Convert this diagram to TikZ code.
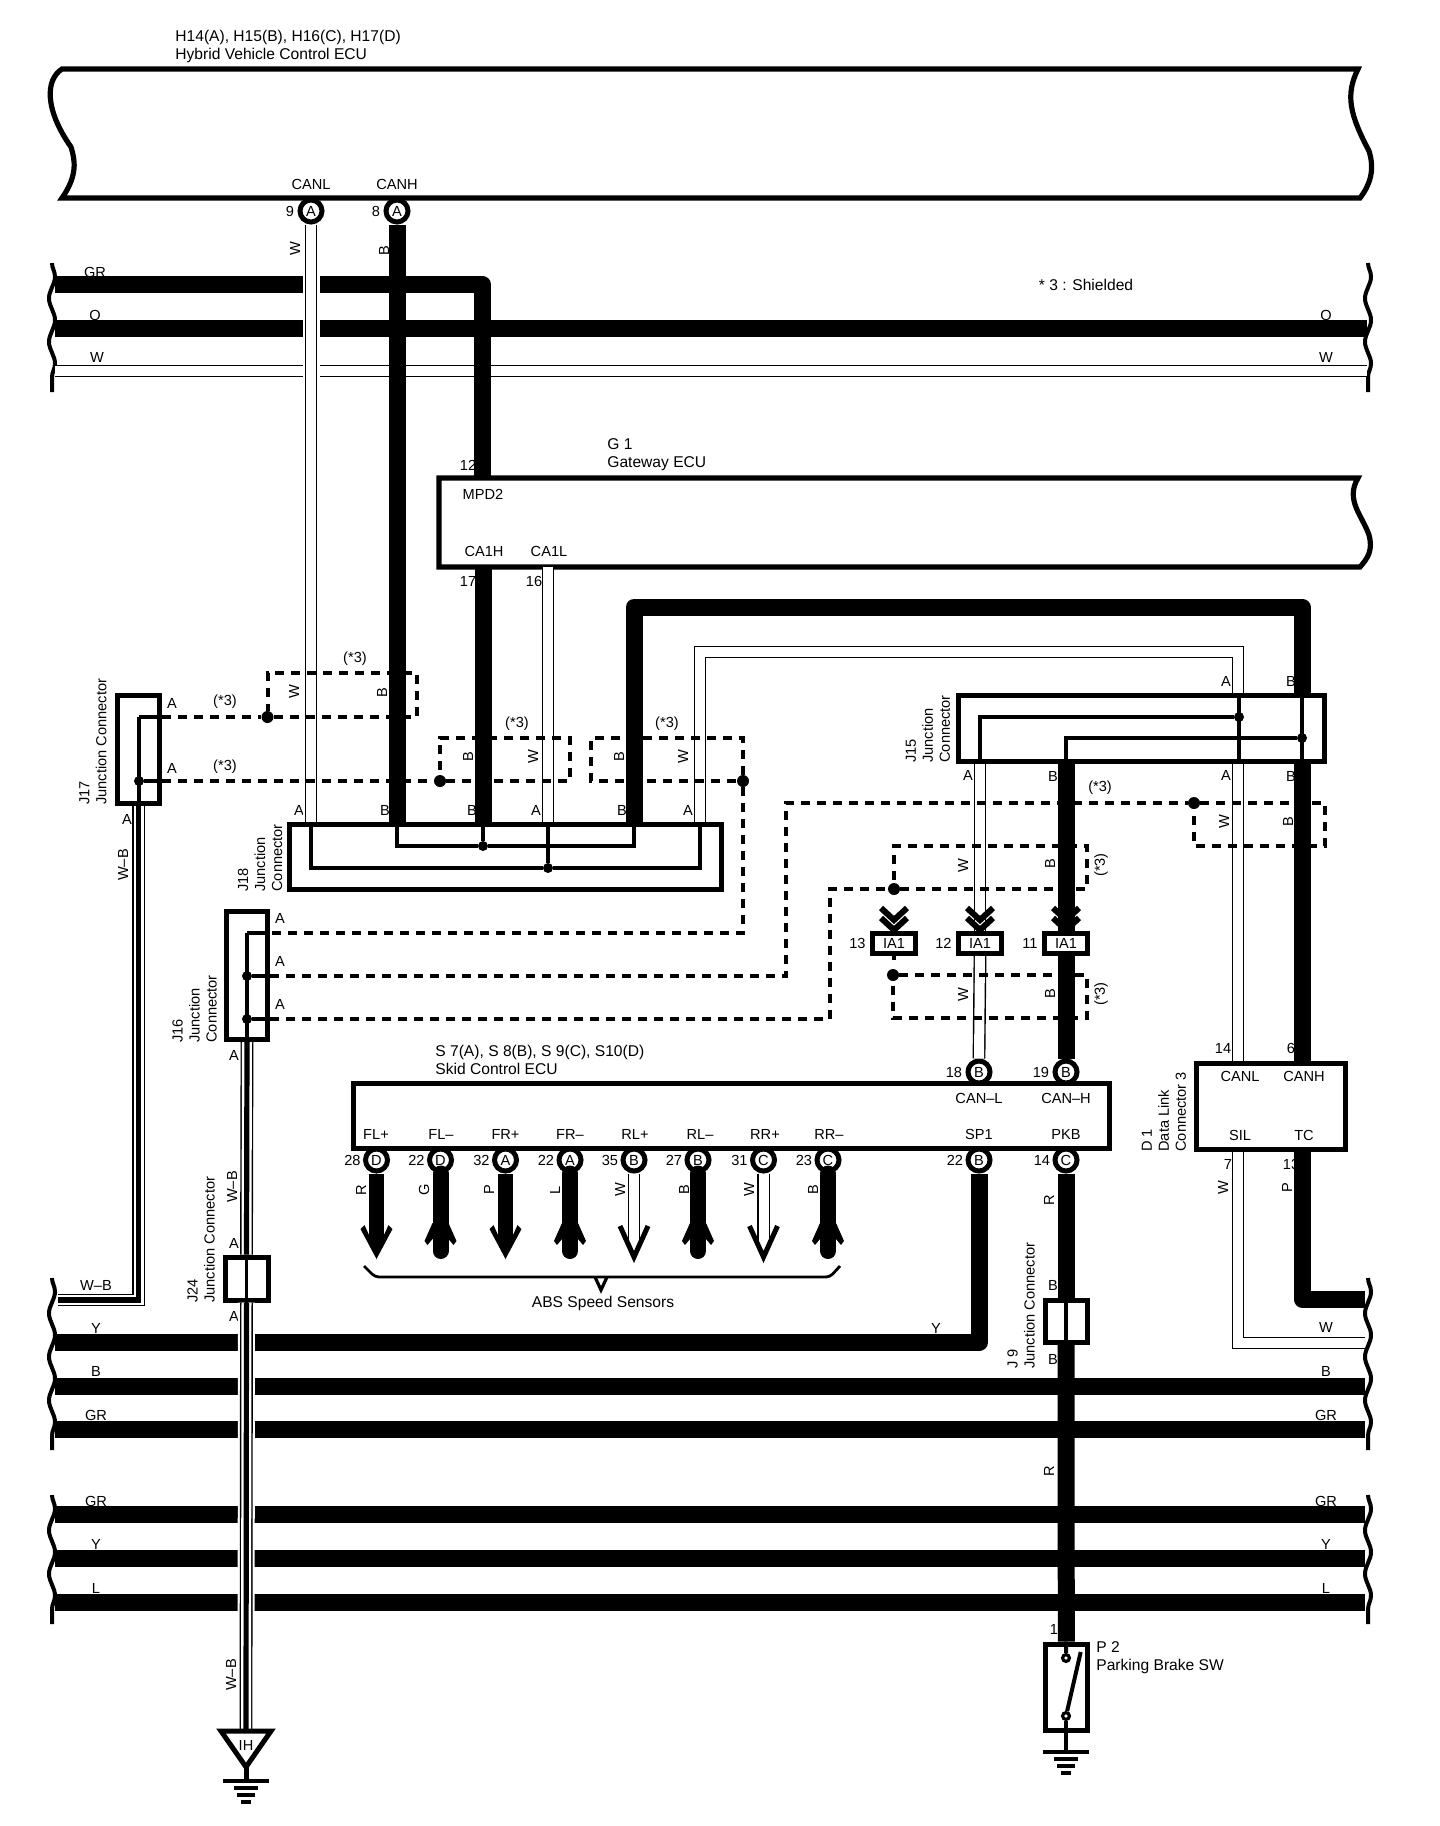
\documentclass[tikz,border=0pt]{standalone}
\usepackage{fontspec}
\setmainfont{Liberation Sans}
\usetikzlibrary{positioning,decorations.pathmorphing}

\begin{document}
\begin{tikzpicture}[x=.5pt,y=-.5pt,
	every node/.style={font=\fontsize{7.3}{8.5}\selectfont,inner sep=0pt},
	rlab/.style={rotate=90},
	bigtext/.style={font=\fontsize{7.8}{9}\selectfont},
	title/.style={bigtext,anchor=west,align=left},
	conn/.style={rotate=90,anchor=west,align=left},
	jbox/.style={draw,rectangle,line width=2.5pt},
	pin/.style={draw,circle,fill=white,line width=2.5pt,minimum size=11pt},
	dot/.style={circle,fill,minimum size=6pt},
	jdot/.style={circle,fill,minimum size=5pt},
	swpin/.style={draw,circle,line width=1.6pt,minimum size=3.4pt},
	ecubox/.style={line width=2.6pt},
	bwire/.style={line width=8.5pt,line join=round},
	wwire/.style={draw=black,line width=6.4pt,postaction={draw=white,line width=5pt}},
	wbwire/.style={wwire,postaction={draw=black,line width=2.6pt}},
	gapwire/.style={preaction={draw=white,line width=8.5pt}},
	inner/.style={line width=1.75pt},
	shield/.style={line width=2pt,dash pattern=on 4.5pt off 3.5pt},
	breakmark/.style={line width=2pt,decorate,decoration={snake,segment length=21.75pt,amplitude=1.5pt}},
	tipdown/.pic={\fill (-16,-30) -- (-12,-34) -- (-7.5,-24) -- (7.5,-24) -- (12,-34) -- (16,-30) -- (0,0) -- cycle;},
	tipopen/.pic={\draw[line width=2.5pt] (-14,-33) -- (0,-2) -- (14,-33);},
	tipup/.pic={\fill (-8,-36) -- (-16,-18) -- (-13,-14) -- (-8,-20) -- (8,-20) -- (13,-14) -- (16,-18) -- (8,-36) -- cycle;},
	tipdouble/.pic={\draw[line width=3pt] (-13,-23) -- (0,-11) -- (13,-23) (-13,-13) -- (0,-1) -- (13,-13);},
	ground/.pic={\draw[line width=1.8pt] (-23,0) -- (23,0) (-12,7) -- (12,7) (-9,14) -- (9,14) (-5,21) -- (5,21);},
	]
	\useasboundingbox (0,0) rectangle (1440,1826);

	% the ECU outlines
	\draw[ecubox] (62,69) -- (1358,69) .. controls (1345,95) and (1350,115) .. (1369,151) .. controls (1375,170) and (1370,185) .. (1360,198) -- (62,198) .. controls (78,175) and (75,160) .. (71,147) .. controls (45,110) and (45,80) .. (62,69) -- cycle;
	\draw[ecubox] (439,478) -- (1358,478) .. controls (1345,500) and (1362,515) .. (1369,535) .. controls (1373,550) and (1368,558) .. (1360,567) -- (439,567) -- cycle;
	\draw[breakmark] (52,263) -- (52,392);
	\draw[breakmark] (1368,263) -- (1368,392);
	\draw[breakmark] (52,1278) -- (52,1450);
	\draw[breakmark] (1368,1278) -- (1368,1450);
	\draw[breakmark] (52,1495) -- (52,1624);
	\draw[breakmark] (1368,1495) -- (1368,1624);

	% create the nodes
	\node (hvname) [title] at (175,46) {H14(A), H15(B), H16(C), H17(D)\\Hybrid Vehicle Control ECU};
	\node (gwname) [title] at (607,455) {G 1\\Gateway ECU};
	\node (skidname) [title] at (435,1060) {S 7(A), S 8(B), S 9(C), S10(D)\\Skid Control ECU};
	\node (swname) [title] at (1096,1658) {P 2\\Parking Brake SW};
	\node (shielded) [bigtext] at (1086,285) {* 3 : Shielded};

	\node (j17) [jbox,minimum width=21pt,minimum height=54pt] at (138.5,749) {};
	\node (j18) [jbox,minimum width=215.75pt,minimum height=32.5pt] at (505.25,857) {};
	\node (j16) [jbox,minimum width=20.5pt,minimum height=64pt] at (247,975.5) {};
	\node (j24) [jbox,minimum width=21.5pt,minimum height=21.5pt] at (246.5,1278.5) {};
	\node (j15) [jbox,minimum width=183pt,minimum height=33pt] at (1141.5,728) {};
	\node (j9) [jbox,minimum width=21pt,minimum height=21pt] at (1066,1321) {};
	\node (skid) [jbox,minimum width=378pt,minimum height=32.25pt] at (731.5,1115.75) {};
	\node (dlc) [jbox,minimum width=74.5pt,minimum height=43pt] at (1270.5,1106) {};
	\node (p2) [jbox,minimum width=21.25pt,minimum height=43pt] at (1066.3,1687) {};
	\node (ia13) [jbox,minimum width=21.5pt,minimum height=10pt] at (894,943.5) {IA1};
	\node (ia12) [jbox,minimum width=21.5pt,minimum height=10pt] at (980,943.5) {IA1};
	\node (ia11) [jbox,minimum width=21.5pt,minimum height=10pt] at (1066,943.5) {IA1};

	\node (j17txt) [conn] at (93,805) {J17\\Junction Connector};
	\node (j18txt) [conn] at (260,892) {J18\\Junction\\Connector};
	\node (j16txt) [conn] at (194.5,1043) {J16\\Junction\\Connector};
	\node (j24txt) [conn] at (201,1303) {J24\\Junction Connector};
	\node (j15txt) [conn] at (928,763) {J15\\Junction\\Connector};
	\node (j9txt) [conn] at (1021,1369) {J 9\\Junction Connector};
	\node (dlctxt) [conn] at (1164,1152) {D 1\\Data Link\\Connector 3};

	\node (canl) at (311,184) {CANL};
	\node (canh) at (397,184) {CANH};
	\node (mpd) at (483,494) {MPD2};
	\node (cahi) at (484,551) {CA1H};
	\node (calo) at (549,551) {CA1L};
	\node (n12) at (468,465) {12};
	\node (n17) at (468,581) {17};
	\node (n16) at (534,581) {16};
	\node (dlcl) at (1240,1076) {CANL};
	\node (dlch) at (1304,1076) {CANH};
	\node (dlcs) at (1240,1135) {SIL};
	\node (dlct) at (1304,1135) {TC};
	\node (n14d) at (1223,1048) {14};
	\node (n6d) at (1291,1048) {6};
	\node (n7d) at (1228,1164) {7};
	\node (n13d) at (1291,1164) {13};
	\node (canls) at (979,1098) {CAN–L};
	\node (canhs) at (1066,1098) {CAN–H};
	\node (sp1) at (979,1134) {SP1};
	\node (pkb) at (1066,1134) {PKB};
	\node (flpt) at (376,1134) {FL+};
	\node (flmt) at (441,1134) {FL–};
	\node (frpt) at (505.5,1134) {FR+};
	\node (frmt) at (570,1134) {FR–};
	\node (rlpt) at (635,1134) {RL+};
	\node (rlmt) at (700,1134) {RL–};
	\node (rrpt) at (765,1134) {RR+};
	\node (rrmt) at (829,1134) {RR–};
	\node (abs) [bigtext] at (603,1303) {ABS Speed Sensors};

	\node (pcanl) [pin] at (311,211) {A};
	\node (pcanh) [pin] at (397,211) {A};
	\node (p18) [pin] at (979,1072) {B};
	\node (p19) [pin] at (1066,1072) {B};
	\node (pflp) [pin] at (376.5,1160) {D};
	\node (pflm) [pin] at (440.5,1160) {D};
	\node (pfrp) [pin] at (505.5,1160) {A};
	\node (pfrm) [pin] at (570,1160) {A};
	\node (prlp) [pin] at (634,1160) {B};
	\node (prlm) [pin] at (698,1160) {B};
	\node (prrp) [pin] at (763.5,1160) {C};
	\node (prrm) [pin] at (828,1160) {C};
	\node (psp1) [pin] at (979,1160) {B};
	\node (ppkb) [pin] at (1066,1160) {C};

	\node (n9) [left=1.5pt of pcanl] {9};
	\node (n8) [left=1.5pt of pcanh] {8};
	\node (n18) [left=1.5pt of p18] {18};
	\node (n19) [left=1.5pt of p19] {19};
	\node (n28) [left=1pt of pflp] {28};
	\node (n22a) [left=1pt of pflm] {22};
	\node (n32) [left=1pt of pfrp] {32};
	\node (n22b) [left=1pt of pfrm] {22};
	\node (n35) [left=1pt of prlp] {35};
	\node (n27) [left=1pt of prlm] {27};
	\node (n31) [left=1pt of prrp] {31};
	\node (n23) [left=1pt of prrm] {23};
	\node (n22c) [left=1pt of psp1] {22};
	\node (n14) [left=1pt of ppkb] {14};
	\node (n13) [left=2pt of ia13] {13};
	\node (n12i) [left=2pt of ia12] {12};
	\node (n11) [left=2pt of ia11] {11};
	\node (n1) at (1054,1629) {1};

	% wire colours
	\node (lgr1) at (95,272) {GR};
	\node (lo1) at (95,315) {O};
	\node (lw1) at (97,357) {W};
	\node (ro1) at (1326,315) {O};
	\node (rw1) at (1326,357) {W};
	\node (lwb) at (96,1285) {W–B};
	\node (ly1) at (96,1328) {Y};
	\node (lb1) at (96,1371) {B};
	\node (lgr2) at (96,1415) {GR};
	\node (lgr3) at (96,1501) {GR};
	\node (ly2) at (96,1544) {Y};
	\node (ll1) at (96,1588) {L};
	\node (my) at (936,1328) {Y};
	\node (rw2) at (1326,1327) {W};
	\node (rb2) at (1326,1371) {B};
	\node (rgr2) at (1326,1415) {GR};
	\node (rgr3) at (1326,1501) {GR};
	\node (ry2) at (1326,1544) {Y};
	\node (rl2) at (1326,1588) {L};
	\node (vw1) [rlab] at (295,249) {W};
	\node (vb1) [rlab] at (384,251) {B};
	\node (vwb1) [rlab] at (123,865) {W–B};
	\node (vwb2) [rlab] at (232,1187) {W–B};
	\node (vwb3) [rlab] at (231,1675) {W–B};
	\node (vw2) [rlab] at (294,692) {W};
	\node (vb2) [rlab] at (382,693) {B};
	\node (vb3) [rlab] at (468,757) {B};
	\node (vw3) [rlab] at (533,757) {W};
	\node (vb4) [rlab] at (619,757) {B};
	\node (vw4) [rlab] at (683,757) {W};
	\node (vw5) [rlab] at (1224,822) {W};
	\node (vb5) [rlab] at (1288,822) {B};
	\node (vw6) [rlab] at (963,866) {W};
	\node (vb6) [rlab] at (1050,864) {B};
	\node (vw7) [rlab] at (963,995) {W};
	\node (vb7) [rlab] at (1050,994) {B};
	\node (vw8) [rlab] at (1223,1188) {W};
	\node (vp1) [rlab] at (1287,1188) {P};
	\node (vr1) [rlab] at (361,1190) {R};
	\node (vg1) [rlab] at (424,1190) {G};
	\node (vp2) [rlab] at (489,1190) {P};
	\node (vl1) [rlab] at (555,1190) {L};
	\node (vw9) [rlab] at (620,1190) {W};
	\node (vb8) [rlab] at (684,1190) {B};
	\node (vw10) [rlab] at (749,1190) {W};
	\node (vb9) [rlab] at (813,1190) {B};
	\node (vr2) [rlab] at (1049,1200) {R};
	\node (vr3) [rlab] at (1049,1471) {R};

	% connector letters
	\node (a1) at (172,703) {A};
	\node (a2) at (172,768) {A};
	\node (a3) at (127,819) {A};
	\node (a4) at (299,810) {A};
	\node (b1) at (385,810) {B};
	\node (b2) at (472,810) {B};
	\node (a5) at (536,810) {A};
	\node (b3) at (622,810) {B};
	\node (a6) at (688,810) {A};
	\node (a7) at (280,918) {A};
	\node (a8) at (280,961) {A};
	\node (a9) at (280,1004) {A};
	\node (a10) at (234,1055) {A};
	\node (a11) at (234,1243) {A};
	\node (a12) at (234,1316) {A};
	\node (a13) at (1226,681) {A};
	\node (b4) at (1291,681) {B};
	\node (a14) at (1226,775) {A};
	\node (b5) at (1291,776) {B};
	\node (a15) at (968,775) {A};
	\node (b6) at (1053,776) {B};
	\node (b7) at (1053,1285) {B};
	\node (b8) at (1053,1359) {B};

	\node (sh1) at (225,702) {(*3)};
	\node (sh2) at (225,767) {(*3)};
	\node (sh3) at (355,659) {(*3)};
	\node (sh4) at (517,724) {(*3)};
	\node (sh5) at (667,724) {(*3)};
	\node (sh6) at (1100,788) {(*3)};
	\node (sh7) [rlab] at (1101,865) {(*3)};
	\node (sh8) [rlab] at (1101,994) {(*3)};

	\node (d1) [dot] at (267.5,717) {};
	\node (d2) [dot] at (440,781) {};
	\node (d3) [dot] at (743,781) {};
	\node (d4) [dot] at (1194,803) {};
	\node (d5) [dot] at (894,889) {};
	\node (d6) [dot] at (893,975) {};
	\node (j17d) [jdot] at (139,781) {};
	\node (j16d1) [jdot] at (247,976) {};
	\node (j16d2) [jdot] at (247,1019) {};
	\node (j18d1) [jdot] at (483,846) {};
	\node (j18d2) [jdot] at (548,868) {};
	\node (j15d1) [jdot] at (1239,717) {};
	\node (j15d2) [jdot] at (1302,738) {};
	\node (swa) [swpin] at (1066,1658) {};
	\node (swb) [swpin] at (1066,1716) {};
	\node (ih) at (246,1745) {IH};

	\coordinate (busgr1) at (55,284);
	\coordinate (buso1) at (55,328);
	\coordinate (buso2) at (1367,328);
	\coordinate (busw1) at (55,371);
	\coordinate (busw2) at (1367,371);
	\coordinate (buswb) at (58,1300);
	\coordinate (busy) at (55,1342.6);
	\coordinate (busb1) at (55,1386.6);
	\coordinate (busb2) at (1365,1386.6);
	\coordinate (busgr2) at (55,1429);
	\coordinate (busgr3) at (1365,1429);
	\coordinate (busgr4) at (55,1514.3);
	\coordinate (busgr5) at (1365,1514.3);
	\coordinate (busy2) at (55,1558.3);
	\coordinate (busy3) at (1365,1558.3);
	\coordinate (busl1) at (55,1602);
	\coordinate (busl2) at (1365,1602);
	\coordinate (bustc) at (1365,1299);
	\coordinate (buswd) at (1365,1343);
	\coordinate (gwa) at (482,478);
	\coordinate (gwb) at (483,567);
	\coordinate (gwc) at (548,567);
	\coordinate (j18e) at (634,824);
	\coordinate (j18a) at (700,824);
	\coordinate (topb) at (1302,607);
	\coordinate (topw) at (1238,652);
	\coordinate (tipline) at (0,1259);
	\coordinate (j17t) at (139,717);
	\coordinate (j16t) at (247,933);
	\coordinate (sa) at (417,673);
	\coordinate (sb) at (570,738);
	\coordinate (sc) at (591,738);
	\coordinate (sd) at (786,803);
	\coordinate (se) at (1325,846);
	\coordinate (sf) at (829.5,889);
	\coordinate (sg) at (1087,846);
	\coordinate (sh) at (1087,1018);
	\coordinate (ihtop) at (246,1729);
	\coordinate (ihtip) at (246,1767);
	\coordinate (gnda) at (246,1781);
	\coordinate (gndb) at (1066,1752);
	\coordinate (bladetop) at (1080.7,1652);

	% the wires that run across
	\draw[bwire] (buso1) -- (buso2);
	\draw[wwire] (busw1) -- (busw2);
	\draw[bwire] (busgr1) -| (gwa);
	\draw[bwire] (busb1) -- (busb2);
	\draw[bwire] (busgr2) -- (busgr3);
	\draw[bwire] (busgr4) -- (busgr5);
	\draw[bwire] (busy2) -- (busy3);
	\draw[bwire] (busl1) -- (busl2);
	\draw[bwire] (busy) -| (psp1.south);

	% connect the nodes
	\draw[wwire,gapwire] (pcanl.south) -- (pcanl |- j18.north);
	\draw[wwire] (gwc) -- (gwc |- j18.north);
	\draw[wwire] (j18a |- j18.north) |- (topw) -- (topw |- j15.north);
	\draw[wwire] (topw |- j15.south) -- (topw |- dlc.north);
	\draw[wwire] (topw |- dlc.south) |- (buswd);
	\draw[wwire] (ia12 |- j15.south) -- (ia12.north);
	\draw[wwire] (ia12.south) -- (p18.north);
	\draw[wwire] (prlp.south) -- ([yshift=5pt]prlp |- tipline);
	\draw[wwire] (prrp.south) -- ([yshift=5pt]prrp |- tipline);
	\draw[wbwire] (j17.south) |- (buswb);
	\draw[wbwire] (j16.south) -- (j24.north);
	\draw[wbwire,gapwire] (j24.south) -- (ihtop);

	\draw[shield] (j17.east |- d1) -- (d1);
	\draw[shield] (d1) -| (sa) -| (d1);
	\draw[shield] (j17.east |- d2) -- (d2);
	\draw[shield] (d2) -| (sb) -| (d2);
	\draw[shield] (d3) |- (sc) |- (d3);
	\draw[shield] (d3) |- (j16.east |- j16t);
	\draw[shield] (j16.east |- j16d1) -| (sd) -- (d4);
	\draw[shield] (d4) -| (se) -| (d4);
	\draw[shield] (j16.east |- j16d2) -| (sf) -- (d5);
	\draw[shield] (d5) -| (sg) -| (d5);
	\draw[shield] (d6) -| (sh) -| (d6);

	\draw[bwire] (pcanh.south) -- (pcanh |- j18.north);
	\draw[bwire] (gwb) -- (gwb |- j18.north);
	\draw[bwire] (j18e |- j18.north) |- (topb) -- (topb |- j15.north);
	\draw[bwire] (topb |- j15.south) -- (topb |- dlc.north);
	\draw[bwire] (topb |- dlc.south) |- (bustc);
	\draw[bwire] (ia11 |- j15.south) -- (ia11.north);
	\draw[bwire] (ia11.south) -- (p19.north);
	\draw[bwire] (ppkb.south) -- (j9.north);
	\draw[bwire] (j9.south) -- (p2.north);
	\draw[inner] (j9.north) -- (j9.south);
	\draw[inner] (j24.north) -- (j24.south);

	% the sensors
	\draw[line width=7.5pt] (pflp.south) -- ([yshift=8pt]pflp |- tipline);
	\draw[line width=7.5pt] (pfrp.south) -- ([yshift=8pt]pfrp |- tipline);
	\draw[line width=8pt,line cap=round] (pflm.south) -- ([yshift=4pt]pflm |- tipline);
	\draw[line width=8pt,line cap=round] (pfrm.south) -- ([yshift=4pt]pfrm |- tipline);
	\draw[line width=8pt,line cap=round] (prlm.south) -- ([yshift=4pt]prlm |- tipline);
	\draw[line width=8pt,line cap=round] (prrm.south) -- ([yshift=4pt]prrm |- tipline);
	\pic at (pflp |- tipline) {tipdown};
	\pic at (pfrp |- tipline) {tipdown};
	\pic at (prlp |- tipline) {tipopen};
	\pic at (prrp |- tipline) {tipopen};
	\pic at (pflm |- tipline) {tipup};
	\pic at (pfrm |- tipline) {tipup};
	\pic at (prlm |- tipline) {tipup};
	\pic at (prrm |- tipline) {tipup};
	\pic at (ia13.north) {tipdouble};
	\pic at (ia12.north) {tipdouble};
	\pic at (ia11.north) {tipdouble};
	\draw[inner] (ia13.south) -- +(0,4);
	\draw[line width=1.4pt,rounded corners=2pt] (364,1266) -- (375,1277) -- (830,1277) -- (840,1266);
	\draw[line width=1.6pt] (595,1277) -- (601,1290) -- (607,1277);

	% inside the junction connectors
	\draw[inner] (j17t) -- (j17.east |- j17t);
	\draw[inner] (j17t) -- (j17.south -| j17t);
	\draw[inner] (j17d) -- (j17.east |- j17d);
	\draw[inner] (j16t) -- (j16.east |- j16t);
	\draw[inner] (j16t) -- (j16.south -| j16t);
	\draw[inner] (j16d1) -- (j16.east |- j16d1);
	\draw[inner] (j16d2) -- (j16.east |- j16d2);
	\draw[inner] (pcanl |- j18.north) |- (j18d2);
	\draw[inner] (j18d2) -| (j18a |- j18.north);
	\draw[inner] (j18d2) -- (j18d2 |- j18.north);
	\draw[inner] (pcanh |- j18.north) |- (j18d1);
	\draw[inner] (j18d1) -| (j18e |- j18.north);
	\draw[inner] (j18d1) -- (j18d1 |- j18.north);
	\draw[inner] (j15d1 |- j15.north) -- (j15d1 |- j15.south);
	\draw[inner] (j15d2 |- j15.north) -- (j15d2 |- j15.south);
	\draw[inner] (j15d1) -| (ia12 |- j15.south);
	\draw[inner] (j15d2) -| (ia11 |- j15.south);

	% the switch and the grounds
	\draw[line width=2pt] (p2.north) -- (swa);
	\draw[line width=2pt] (swb) -- (bladetop);
	\draw[line width=2pt] (swb) -- (gndb);
	\draw[line width=2.5pt] (221,1731) -- (271,1731) -- (ihtip) -- cycle;
	\draw[line width=2.5pt] (ihtip) -- (gnda);
	\pic at (gnda) {ground};
	\pic at (gndb) {ground};
\end{tikzpicture}
\end{document}
